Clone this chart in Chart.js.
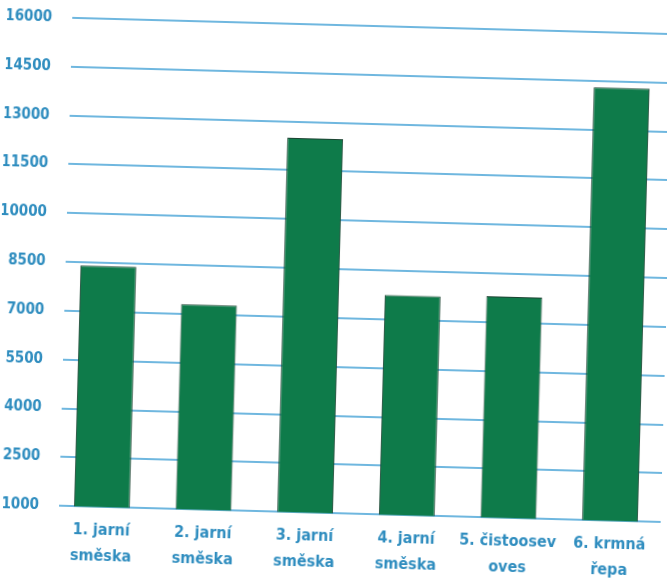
<!DOCTYPE html>
<html>
<head>
<meta charset="utf-8">
<script src="https://cdn.jsdelivr.net/npm/chart.js@4"></script>
<style>
	html, body { margin: 0; padding: 0; background: #fff; overflow: hidden; }
	#wrap { width: 667px; height: 578px; transform: rotate(1.55deg); transform-origin: 333px 289px; }
</style>
</head>
<body>
<div id="wrap"><canvas id="mycanvas" width="667" height="578"></canvas></div>
<script>
var crops = [["1. jarní", "směska"], ["2. jarní", "směska"], ["3. jarní", "směska"], ["4. jarní", "směska"], ["5. čistoosev", "oves"], ["6. krmná", "řepa"]];
var yields = [8400, 7300, 12500, 7750, 7800, 14300];
var yTicks = [1000, 2500, 4000, 5500, 7000, 8500, 10000, 11500, 13000, 14500, 16000];

var blue = '#2f8dbf';
var font = '"Liberation Sans Narrow", "DejaVu Sans Condensed", sans-serif';

// horizontal lines start a little right of the axis, like the printed chart
var gridLines = {
	id: 'gridLines',
	beforeDatasetsDraw: function(chart){
		var ctx = chart.ctx;
		var y = chart.scales.y;
		ctx.save();
		ctx.strokeStyle = '#3f9fd4';
		ctx.lineWidth = 1.7;
		for(var i in yTicks){
			var py = Math.round(y.getPixelForValue(yTicks[i]));
			ctx.beginPath();
			ctx.moveTo(65, py);
			ctx.lineTo(chart.width, py);
			ctx.stroke();
		}
		ctx.restore();
	}
};

var chartdata = {
	labels: crops,
	datasets : [
		{
			data: yields,
			backgroundColor: '#0e7b4a',
			borderColor: '#1d4433',
			borderWidth: 1,
			categoryPercentage: 1,
			barPercentage: 0.55
		}
	]
};

var ctx = document.getElementById('mycanvas');

var barGraph = new Chart(ctx, {
	type: 'bar',
	data: chartdata,
	plugins: [gridLines],
	options: {
		responsive: false,
		animation: false,
		layout: { padding: { top: 25, right: 0, bottom: 0, left: 0 } },
		plugins: { legend: { display: false }, tooltip: { enabled: false } },
		scales: {
			x: {
				grid: { display: false },
				border: { display: false },
				ticks: { color: blue, padding: 2, font: { family: font, size: 16, weight: 'bold', lineHeight: 1.65 }, maxRotation: 0, autoSkip: false }
			},
			y: {
				min: 1000,
				max: 16000,
				afterBuildTicks: function(scale){
					scale.ticks = yTicks.map(function(v){ return { value: v }; });
				},
				afterFit: function(scale){ scale.width = 57; },
				grid: { display: false },
				border: { display: false },
				ticks: {
					color: blue,
					padding: 4,
					font: { family: font, size: 15, weight: 'bold' },
					callback: function(v){ return String(v); }
				}
			}
		}
	}
});
</script>
</body>
</html>
